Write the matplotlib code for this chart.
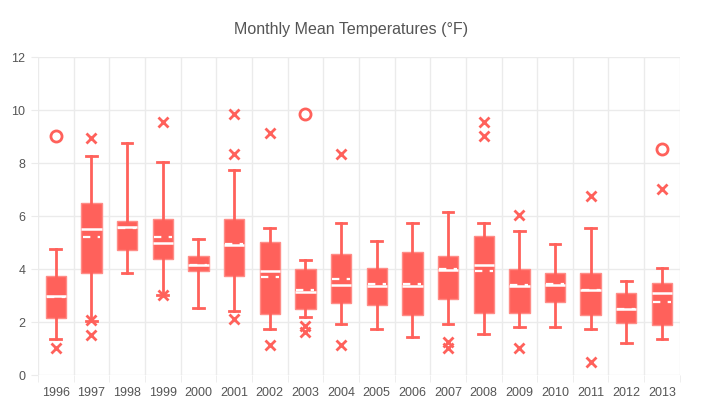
import numpy as np
import matplotlib.pyplot as plt

years = ['1996', '1997', '1998', '1999', '2000', '2001', '2002', '2003', '2004',
         '2005', '2006', '2007', '2008', '2009', '2010', '2011', '2012', '2013']
whisker_low = [1.35, 2.05, 3.83, 3.03, 2.52, 2.43, 1.74, 2.20, 1.91,
               1.74, 1.42, 1.91, 1.53, 1.82, 1.82, 1.74, 1.22, 1.36]
q1 = [2.14, 3.83, 4.70, 4.36, 3.91, 3.74, 2.29, 2.48, 2.70,
      2.63, 2.25, 2.86, 2.33, 2.33, 2.75, 2.25, 1.95, 1.87]
median = [2.96, 5.50, 5.57, 4.96, 4.16, 4.92, 3.94, 3.12, 3.38,
          3.37, 3.36, 3.95, 4.15, 3.34, 3.40, 3.22, 2.49, 3.08]
mean = [2.93, 5.22, 5.53, 5.22, 4.14, 4.94, 3.71, 3.22, 3.63,
        3.42, 3.43, 4.00, 3.94, 3.38, 3.42, 3.22, 2.47, 2.74]
q3 = [3.75, 6.47, 5.79, 5.87, 4.47, 5.87, 5.03, 4.00, 4.58,
      4.05, 4.65, 4.47, 5.26, 4.00, 3.86, 3.86, 3.11, 3.46]
whisker_high = [4.74, 8.25, 8.75, 8.03, 5.12, 7.72, 5.55, 4.33, 5.72,
                5.04, 5.72, 6.14, 5.72, 5.42, 4.93, 5.53, 3.54, 4.04]
outliers = [[1.02], [8.94, 2.07, 1.52], [], [9.53, 3.03], [], [9.85, 8.34, 2.11],
            [9.13, 1.13], [1.86, 1.61], [8.33, 1.13], [], [], [1.26, 1.01],
            [9.53, 9.03], [6.03, 1.03], [], [6.74, 0.50], [], [7.03]]
extremes = [[9.03], [], [], [], [], [], [], [9.85], [], [], [], [],
            [], [], [], [], [], [8.53]]

red = '#ff615b'
edge = '#ff8c87'
grid_c = '#ebebeb'
text_c = '#555555'

plt.rcParams['font.family'] = ['Liberation Sans', 'DejaVu Sans']

fig = plt.figure(figsize=(7.03, 4.10), dpi=100)
ax = fig.add_axes([0.054, 0.083, 0.913, 0.776])

pos = np.arange(len(years))
stats = []
for i in range(len(years)):
    stats.append({'whislo': whisker_low[i], 'q1': q1[i], 'med': median[i],
                  'q3': q3[i], 'whishi': whisker_high[i], 'fliers': []})

ax.bxp(stats, positions=pos, widths=0.57, patch_artist=True, showfliers=False,
       boxprops=dict(facecolor=red, edgecolor=edge, linewidth=1),
       whiskerprops=dict(color=red, linewidth=2),
       capprops=dict(color=red, linewidth=2),
       medianprops=dict(color='white', linewidth=1.8),
       capwidths=0.3, zorder=3)

# mean as a dashed white line, outliers as x, extremes as open circles
for i in range(len(years)):
    ax.plot([pos[i] - 0.25, pos[i] + 0.25], [mean[i], mean[i]], color='white',
            lw=1.6, dashes=(3.3, 3.3), zorder=5)
    for v in outliers[i]:
        ax.plot(pos[i], v, marker='x', ms=7, mew=2, color=red, zorder=4)
    for v in extremes[i]:
        ax.plot(pos[i], v, marker='o', ms=8, mew=2, mfc='white', mec=red, zorder=4)

ax.set_xlim(-0.5, len(years) - 0.5)
ax.set_ylim(0, 12)
ax.set_yticks(np.arange(0, 13, 2))
ax.set_xticks(pos)
ax.set_xticklabels(years)
ax.set_xticks(np.arange(-0.5, len(years), 1), minor=True)
ax.tick_params(axis='x', which='major', length=0, pad=8, labelsize=9, labelcolor=text_c)
ax.tick_params(axis='x', which='minor', length=5, color=grid_c)
ax.tick_params(axis='y', length=5, color=grid_c, labelsize=9, labelcolor=text_c, pad=4)
ax.grid(True, axis='y', color=grid_c, lw=1, zorder=0)
ax.grid(True, axis='x', which='minor', color=grid_c, lw=1, zorder=0)
ax.set_axisbelow(True)
for s in ax.spines.values():
    s.set_visible(False)

fig.text(0.5, 0.927, 'Monthly Mean Temperatures (°F)', ha='center', va='center',
         fontsize=11.5, color=text_c)

fig.savefig('out.png', dpi=100)
